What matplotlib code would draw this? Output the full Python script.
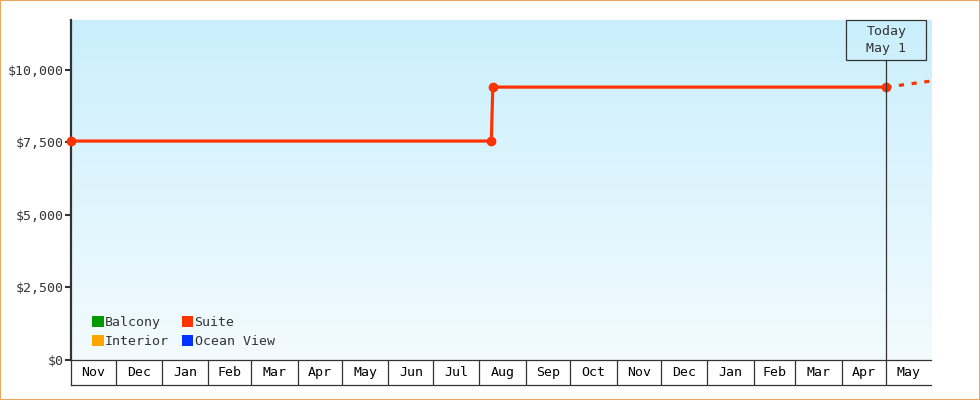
import matplotlib
matplotlib.use("Agg")
import matplotlib.pyplot as plt
import matplotlib.dates as mdates
from matplotlib.patches import Patch, Rectangle
from matplotlib.colors import LinearSegmentedColormap
from datetime import date
import numpy as np

# data
suite_dates = [date(2023, 11, 1), date(2024, 8, 9), date(2024, 8, 10), date(2025, 5, 1)]
suite_prices = [7550, 7550, 9410, 9410]
proj_dates = [date(2025, 5, 1), date(2025, 5, 31)]
proj_prices = [9410, 9620]

month_starts = [date(2023, 11, 1), date(2023, 12, 1), date(2024, 1, 1), date(2024, 2, 1),
                date(2024, 3, 1), date(2024, 4, 1), date(2024, 5, 1), date(2024, 6, 1),
                date(2024, 7, 1), date(2024, 8, 1), date(2024, 9, 1), date(2024, 10, 1),
                date(2024, 11, 1), date(2024, 12, 1), date(2025, 1, 1), date(2025, 2, 1),
                date(2025, 3, 1), date(2025, 4, 1), date(2025, 5, 1)]
month_labels = ["Nov", "Dec", "Jan", "Feb", "Mar", "Apr", "May", "Jun", "Jul", "Aug",
                "Sep", "Oct", "Nov", "Dec", "Jan", "Feb", "Mar", "Apr", "May"]
yticks = [0, 2500, 5000, 7500, 10000]
ytick_labels = ["$0", "$2,500", "$5,000", "$7,500", "$10,000"]

legend_names = ["Balcony", "Interior", "Suite", "Ocean View"]
legend_colors = ["#009900", "#FFA500", "#FF3300", "#0033FF"]

today = date(2025, 5, 1)
x_start = date(2023, 11, 1)
x_end = date(2025, 5, 31)

plt.rcParams['font.family'] = ['DejaVu Sans Mono']
FS = 9.5
DARK = "#333333"

fig = plt.figure(figsize=(9.8, 4), dpi=100)
ax = fig.add_axes([71/980, 40/400, 860/980, 340/400])

x0, x1 = mdates.date2num(x_start), mdates.date2num(x_end)

# gradient background
grad = np.linspace(0, 1, 256).reshape(-1, 1)
cmap = LinearSegmentedColormap.from_list("bg", ["#CAEFFC", "#F3FBFF"])
ax.imshow(grad, cmap=cmap, aspect='auto', extent=[0, 1, 0, 1],
          transform=ax.transAxes, zorder=0)
ax.set_xlim(x0, x1)
ax.set_ylim(0, 11724)

# suite line
ax.plot(mdates.date2num(suite_dates), suite_prices, color="#FF3300", lw=2.3,
        marker='o', markersize=6, zorder=3, clip_on=False)
ax.plot(mdates.date2num(proj_dates), proj_prices, color="#FF3300", lw=2.3,
        dashes=(1.6, 2.4), dash_capstyle='butt', zorder=3, clip_on=False)

# today marker
t = mdates.date2num(today)
tf = (t - x0) / (x1 - x0)
box_h = 40/340
ax.plot([t, t], [0, 1 - box_h], transform=ax.get_xaxis_transform(),
        color=DARK, lw=0.9, zorder=4)
ax.add_patch(Rectangle((tf - 40/860, 1 - box_h), 80/860, box_h, transform=ax.transAxes,
                       fill=False, edgecolor=DARK, lw=0.9, zorder=4, clip_on=False))
ax.text(tf, 1 - box_h/2, "Today\nMay 1", transform=ax.transAxes, ha='center',
        va='center', fontsize=FS, color=DARK, linespacing=1.35, zorder=5)

# axes styling
ax.set_yticks(yticks)
ax.set_yticklabels(ytick_labels)
ax.tick_params(axis='y', length=4, width=1.5, color=DARK, labelsize=FS,
               labelcolor=DARK, pad=1)
ax.set_xticks([])
for s in ['top', 'right']:
    ax.spines[s].set_visible(False)
ax.spines['left'].set_linewidth(1.6)
ax.spines['left'].set_color(DARK)
ax.spines['bottom'].set_linewidth(0.9)
ax.spines['bottom'].set_color(DARK)

# legend
handles = [Patch(facecolor=c, edgecolor='none', label=n)
           for n, c in zip(legend_names, legend_colors)]
ax.legend(handles=handles, ncol=2, loc='lower left', bbox_to_anchor=(0.011, 0.0),
          frameon=False, fontsize=FS, handlelength=0.85, handleheight=0.85,
          handletextpad=0.1, columnspacing=1.0, labelspacing=0.45,
          labelcolor=DARK)

# month strip
ax2 = fig.add_axes([71/980, 15/400, 860/980, 25/400], sharex=ax)
ax2.set_xlim(x0, x1)
ax2.set_ylim(0, 1)
ax2.patch.set_alpha(0)
for s in ['top', 'right']:
    ax2.spines[s].set_visible(False)
ax2.spines['left'].set_linewidth(0.9)
ax2.spines['left'].set_color(DARK)
ax2.spines['bottom'].set_linewidth(0.9)
ax2.spines['bottom'].set_color(DARK)
ax2.set_xticks([])
ax2.set_yticks([])
starts = list(mdates.date2num(month_starts)) + [x1]
for i, lab in enumerate(month_labels):
    a, b = starts[i], min(starts[i + 1], x1)
    if i > 0:
        ax2.axvline(a, color=DARK, lw=0.9)
    ax2.text((a + b) / 2, 0.5, lab, ha='center', va='center', fontsize=FS, color='black')

# figure border
fig.patches.append(Rectangle((0, 0), 1, 1, transform=fig.transFigure, fill=False,
                             edgecolor="#E8A860", lw=1.5, zorder=10))

fig.savefig("out.png", dpi=100)
